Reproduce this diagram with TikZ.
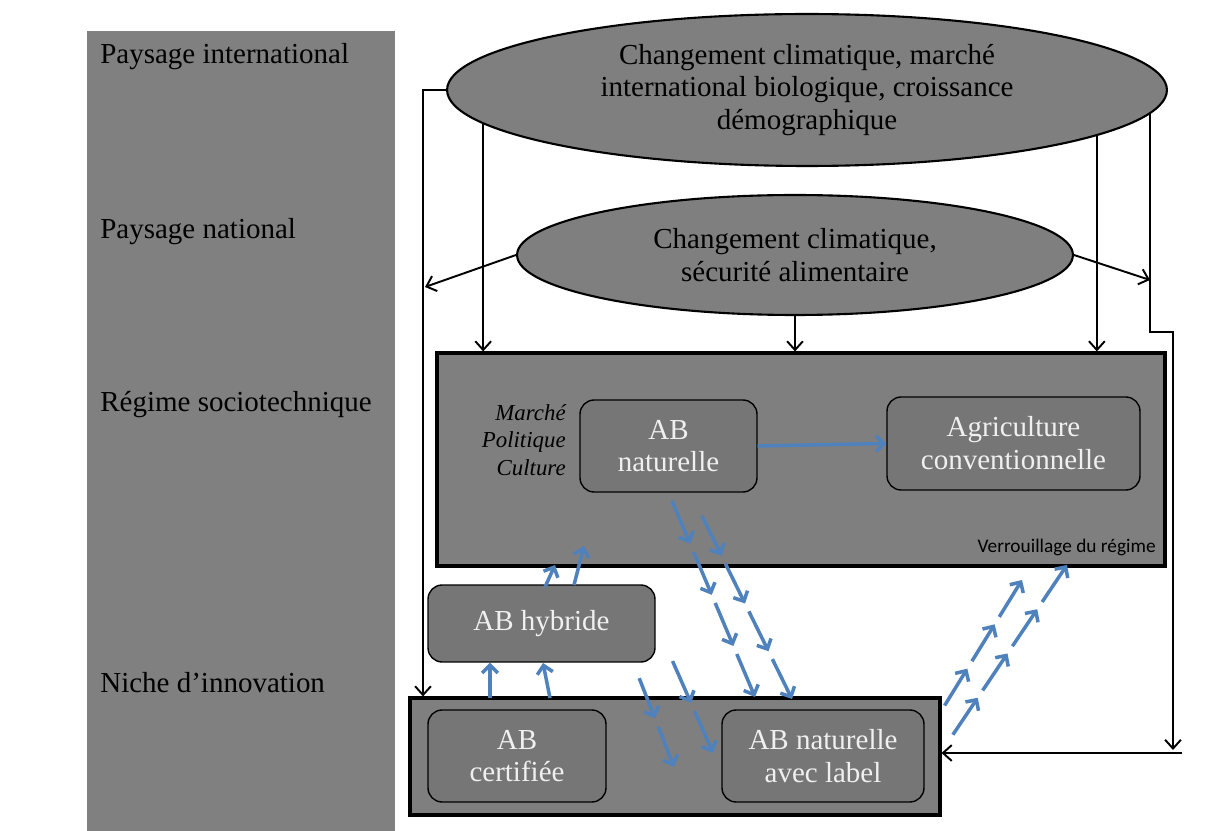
\documentclass[tikz,border=0pt]{standalone}
\usepackage{fontspec}
\setmainfont{Liberation Serif}
\newfontfamily\calibri{Carlito}
\usetikzlibrary{shapes.geometric,arrows.meta,calc}

\definecolor{panelgray}{RGB}{128,128,128}
\definecolor{boxgray}{RGB}{127,127,127}
\definecolor{innergray}{RGB}{118,118,118}
\definecolor{arrowblue}{RGB}{79,129,189}

\tikzset{
  level/.style={anchor=west, inner sep=0pt, font=\fontsize{16.5}{18.7}\selectfont},
  cloud/.style={ellipse, draw, line width=1.2pt, fill=boxgray, inner sep=0pt, align=center, font=\fontsize{16.5}{18.7}\selectfont},
  layer/.style={draw, line width=1.8pt, fill=boxgray, inner sep=0pt},
  option/.style={draw, line width=0.8pt, rounded corners=8pt, fill=innergray, text=white!94!black, inner sep=0pt, align=center, font=\fontsize{16.5}{18.7}\selectfont},
  blk/.style={line width=1.1pt, -{Straight Barb[length=5pt,width=9pt]}},
  blu/.style={arrowblue, line width=2pt, -{Straight Barb[length=4.5pt,width=9pt]}},
}

% dashed chain of small arrows: from, to, number of pieces
\newcommand{\dashchain}[3]{%
  \foreach \k in {1,...,#3}{
    \draw[blu, shorten <=5pt] ($(#1)!{(\k-1)/#3}!(#2)$) -- ($(#1)!{\k/#3}!(#2)$);
  }}

\begin{document}
\begin{tikzpicture}[x=0.02cm, y=-0.02cm]
	\useasboundingbox (0,0) rectangle (1215,831);
	\fill[panelgray] (87,31) rectangle (395,831);
	
	\node[level] (lvlintl) at (100,57) {Paysage international};
	\node[level] (lvlnat) at (100,232) {Paysage national};
	\node[level] (lvlreg) at (100,405) {Régime sociotechnique};
	\node[level] (lvlniche) at (100,683) {Niche d’innovation};
	
	\node[cloud, minimum width=14.4cm, minimum height=3.04cm] (intl) at (807,90) {Changement climatique, marché\\international biologique, croissance\\démographique};
	\node[cloud, minimum width=11.12cm, minimum height=2.4cm] (natl) at (795,255) {Changement climatique,\\sécurité alimentaire};
	
	\node[layer, minimum width=14.56cm, minimum height=4.26cm] (regime) at (801,459.5) {};
	\node[layer, minimum width=10.6cm, minimum height=2.34cm] (niche) at (675,756.5) {};
	
	\node[option, minimum width=3.54cm, minimum height=1.84cm] (abnat) at (668.5,446) {AB\\naturelle};
	\node[option, minimum width=5.06cm, minimum height=1.86cm] (agri) at (1013.5,443.5) {Agriculture\\conventionnelle};
	\node[option, minimum width=4.54cm, minimum height=1.54cm] (hybride) at (541.5,623.5) {AB hybride};
	\node[option, minimum width=3.56cm, minimum height=1.84cm] (certif) at (517,756) {AB\\certifiée};
	\node[option, minimum width=4.04cm, minimum height=1.84cm] (label) at (823,756) {AB naturelle\\avec label};
	
	\node[anchor=east, align=right, inner sep=0pt, font=\fontsize{13}{15.6}\selectfont\itshape] (forces) at (566,440) {Marché\\Politique\\Culture};
	\node[anchor=east, inner sep=0pt, font=\calibri\fontsize{11}{13}\selectfont] (lock) at (1156,547) {Verrouillage du régime};
	
	% black connectors
	\coordinate (lbar) at (423,90);
	\coordinate (lhit) at (425,287);
	\coordinate (rstep) at (1173,332);
	\coordinate (rend) at (1173,750);
	\coordinate (rhit) at (1150,280);
	\coordinate (hz) at (1182,753);
	\draw[blk] (intl.west) -- (lbar) -- (lbar |- niche.north);
	\draw[blk] (natl.west) -- (lhit);
	\draw[blk] (intl.186) -- (intl.186 |- regime.north);
	\draw[blk] (intl.351) -- (intl.351 |- regime.north);
	\draw[blk] (natl.south) -- (natl.south |- regime.north);
	\draw[blk] (natl.east) -- (rhit);
	\draw[blk] (intl.356) |- (rstep) -- (rend);
	\draw[blk] (hz) -- (hz -| niche.east);
	
	% blue connectors
	\coordinate (c1) at (755,697);
	\coordinate (d0) at (698,508);
	\coordinate (d1) at (792,699);
	\coordinate (e0) at (636,670);
	\coordinate (e1) at (674,767);
	\coordinate (f0) at (669,653);
	\coordinate (f1) at (713,753);
	\coordinate (u1) at (490,698);
	\coordinate (u2) at (550,698);
	\coordinate (u2t) at (543,663);
	\coordinate (u3) at (545,587);
	\coordinate (u3t) at (555,565);
	\coordinate (u4) at (574,585);
	\coordinate (u4t) at (584,546);
	\coordinate (a0) at (940,713);
	\coordinate (a1) at (1022,580);
	\coordinate (b0) at (948,742);
	\coordinate (b1) at (1067,565);
	\draw[blu] (abnat.east) -- (agri.west);
	\draw[blu] (u1) -- (u1 |- hybride.south);
	\draw[blu] (u2) -- (u2t);
	\draw[blu] (u3) -- (u3t);
	\draw[blu] (u4) -- (u4t);
	\dashchain{abnat.south}{c1}{4}
	\dashchain{d0}{d1}{4}
	\dashchain{e0}{e1}{2}
	\dashchain{f0}{f1}{2}
	\dashchain{a0}{a1}{3}
	\dashchain{b0}{b1}{4}
\end{tikzpicture}
\end{document}
